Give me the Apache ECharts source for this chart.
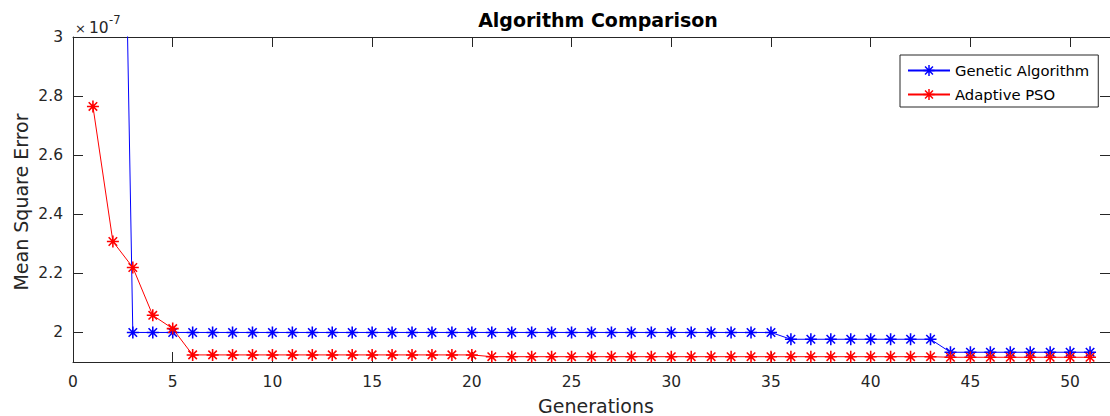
<!DOCTYPE html>
<html>
<head>
<meta charset="utf-8">
<script src="https://cdn.jsdelivr.net/npm/echarts@6/dist/echarts.min.js"></script>
<style>
html,body{margin:0;padding:0;background:#fff;}
#chart{width:1110px;height:416px;}
</style>
</head>
<body>
<div id="chart"></div>
<script>
// Values in units of 1e-7 (axis shows "x10^-7")
const generations = [1,2,3,4,5,6,7,8,9,10,11,12,13,14,15,16,17,18,19,20,21,22,23,24,25,26,27,28,29,30,31,32,33,34,35,36,37,38,39,40,41,42,43,44,45,46,47,48,49,50,51];
const geneticAlgorithm = [
  8.0, 5.8,
  2.0,2.0,2.0,2.0,2.0,2.0,2.0,2.0,2.0,2.0,
  2.0,2.0,2.0,2.0,2.0,2.0,2.0,2.0,2.0,2.0,
  2.0,2.0,2.0,2.0,2.0,2.0,2.0,2.0,2.0,2.0,
  2.0,2.0,2.0,
  1.977,1.977,1.977,1.977,1.977,1.977,1.977,1.977,
  1.933,1.933,1.933,1.933,1.933,1.933,1.933,1.933
];
const adaptivePSO = [
  2.765, 2.308, 2.22, 2.058, 2.013,
  1.924,1.924,1.924,1.924,1.924,1.924,1.924,1.924,1.924,1.924,1.924,1.924,1.924,1.924,1.924,
  1.918,1.918,1.918,1.918,1.918,1.918,1.918,1.918,1.918,1.918,1.918,1.918,
  1.918,1.918,1.918,1.918,1.918,1.918,1.918,1.918,1.918,1.918,1.918,
  1.916,1.916,1.916,1.916,1.916,1.916,1.916,1.916
];
const seriesNames = ['Genetic Algorithm', 'Adaptive PSO'];
const xTicks = [0,5,10,15,20,25,30,35,40,45,50];
const yTicks = [2,2.2,2.4,2.6,2.8,3];

const FONT = 'DejaVu Sans';
const AXC = '#262626';
const asterisk = 'path://M8.7,0L11.3,0L11.3,20L8.7,20Z M0,8.7L20,8.7L20,11.3L0,11.3Z M3.85,2.01L17.99,16.15L16.15,17.99L2.01,3.85Z M16.15,2.01L17.99,3.85L3.85,17.99L2.01,16.15Z';

function pairs(ys){ return generations.map((g,i)=>[g, ys[i]]); }

const chart = echarts.init(document.getElementById('chart'), null, {renderer:'svg'});
const X = {min:0, max:52};
const Y = {min:1.9, max:3};
chart.setOption({
  animation:false,
  backgroundColor:'#fff',
  grid:{left:73, top:37, width:1040, height:325, containLabel:false},
  xAxis:[
    {type:'value', min:X.min, max:X.max, position:'bottom',
     axisLine:{show:true, onZero:false, lineStyle:{color:AXC, width:1}},
     axisTick:{show:true, inside:true, length:10, customValues:xTicks, lineStyle:{color:AXC}},
     axisLabel:{show:true, customValues:xTicks, margin:12, color:AXC, fontFamily:FONT, fontSize:15.5},
     splitLine:{show:false}},
    {type:'value', min:X.min, max:X.max, position:'top',
     axisLine:{show:true, onZero:false, lineStyle:{color:AXC, width:1}},
     axisTick:{show:true, inside:true, length:10, customValues:xTicks, lineStyle:{color:AXC}},
     axisLabel:{show:false}, splitLine:{show:false}}
  ],
  yAxis:[
    {type:'value', min:Y.min, max:Y.max, position:'left',
     axisLine:{show:true, onZero:false, lineStyle:{color:AXC, width:1}},
     axisTick:{show:true, inside:true, length:10, customValues:yTicks, lineStyle:{color:AXC}},
     axisLabel:{show:true, customValues:yTicks, margin:10, color:AXC, fontFamily:FONT, fontSize:15.5,
                formatter:v=>String(Math.round(v*10)/10)},
     splitLine:{show:false}},
    {type:'value', min:Y.min, max:Y.max, position:'right',
     axisLine:{show:true, onZero:false, lineStyle:{color:AXC, width:1}},
     axisTick:{show:true, inside:true, length:10, customValues:yTicks, lineStyle:{color:AXC}},
     axisLabel:{show:false}, splitLine:{show:false}}
  ],
  legend:{
    data:seriesNames, orient:'vertical', left:900, top:55,
    padding:[8,9,5,7], itemWidth:42, itemHeight:14, itemGap:9,
    borderColor:AXC, borderWidth:1, backgroundColor:'#fff',
    textStyle:{fontFamily:FONT, fontSize:14.8, color:'#000', lineHeight:14}
  },
  graphic:[
    {type:'text', x:598, y:20, style:{text:'Algorithm Comparison', fontFamily:FONT, fontWeight:'bold', fontSize:19, fill:'#000', align:'center', verticalAlign:'middle'}},
    {type:'text', x:596, y:406, style:{text:'Generations', fontFamily:FONT, fontSize:19, fill:AXC, align:'center', verticalAlign:'middle'}},
    {type:'text', x:21, y:202, rotation:Math.PI/2, style:{text:'Mean Square Error', fontFamily:FONT, fontSize:19, fill:AXC, align:'center', verticalAlign:'middle'}},
    {type:'text', x:75, y:28, style:{text:'\u00d7', fontFamily:FONT, fontSize:13, fill:AXC, align:'left', verticalAlign:'middle'}},
    {type:'text', x:89, y:27.5, style:{text:'10', fontFamily:FONT, fontSize:15.5, fill:AXC, align:'left', verticalAlign:'middle'}},
    {type:'text', x:109, y:19.5, style:{text:'-7', fontFamily:FONT, fontSize:11.5, fill:AXC, align:'left', verticalAlign:'middle'}}
  ],
  series:[
    {name:seriesNames[0], type:'line', xAxisIndex:0, yAxisIndex:0, data:pairs(geneticAlgorithm),
     symbol:asterisk, symbolSize:12, symbolKeepAspect:true, showSymbol:true, clip:true,
     lineStyle:{color:'#0000ff', width:1}, itemStyle:{color:'#0000ff', borderWidth:0}},
    {name:seriesNames[1], type:'line', xAxisIndex:0, yAxisIndex:0, data:pairs(adaptivePSO),
     symbol:asterisk, symbolSize:12, symbolKeepAspect:true, showSymbol:true, clip:true,
     lineStyle:{color:'#ff0000', width:1}, itemStyle:{color:'#ff0000', borderWidth:0}}
  ]
});
</script>
</body>
</html>
